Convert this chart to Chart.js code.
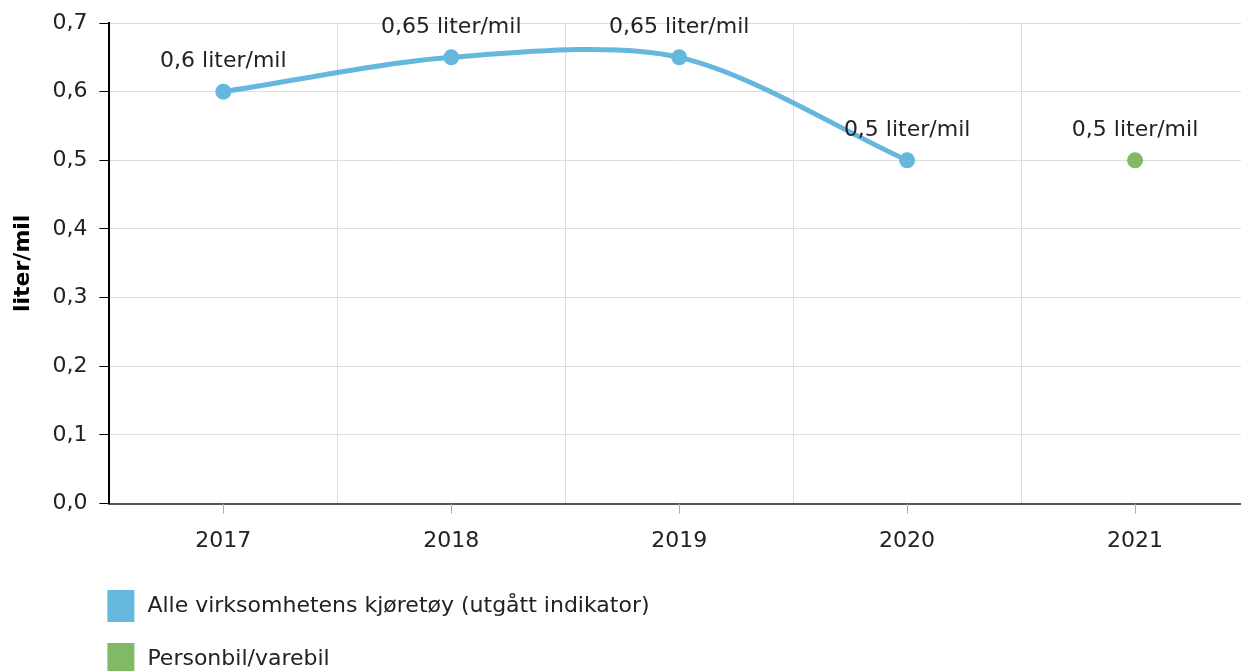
<!DOCTYPE html>
<html>
<head>
<meta charset="utf-8">
<script src="https://cdn.jsdelivr.net/npm/chart.js@4"></script>
<style>
  html, body { margin: 0; padding: 0; overflow: hidden; background: #fff; }
</style>
</head>
<body>
<canvas id="line-chart" width="1257" height="671"></canvas>
<script>
// Years on the x axis
let years = ["2017", "2018", "2019", "2020", "2021"];

// Fuel use per series (null = no value that year)
let alleKjoretoy = [0.6, 0.65, 0.65, 0.5, null];
let personbil = [null, null, null, null, 0.5];

let seriesNames = ["Alle virksomhetens kjøretøy (utgått indikator)", "Personbil/varebil"];
let seriesColors = ["#66b7de", "#82b965"];

let fontFamily = "Verdana, 'DejaVu Sans', sans-serif";
let fontSize = 22;

// Norwegian decimal comma
function fmt(v, digits) {
    return v.toFixed(digits).replace(".", ",");
}

// Labels above each point, e.g. "0,6 liter/mil"
let pointLabels = {
    id: "pointLabels",
    afterDatasetsDraw(chart) {
        let ctx = chart.ctx;
        ctx.save();
        ctx.font = fontSize + "px " + fontFamily;
        ctx.fillStyle = "#222";
        ctx.textAlign = "center";
        ctx.textBaseline = "middle";
        chart.data.datasets.forEach((ds, i) => {
            chart.getDatasetMeta(i).data.forEach((pt, j) => {
                let v = ds.data[j];
                if (v === null) return;
                let txt = String(v).replace(".", ",") + " liter/mil";
                ctx.fillText(txt, pt.x, pt.y - 30);
            });
        });
        ctx.restore();
    }
};

// Small tick marks under each category centre
let centerTicks = {
    id: "centerTicks",
    afterDraw(chart) {
        let ctx = chart.ctx;
        let x = chart.scales.x;
        let bottom = chart.chartArea.bottom;
        ctx.save();
        ctx.strokeStyle = "#aaa";
        ctx.lineWidth = 1;
        years.forEach((y, i) => {
            let px = Math.round(x.getPixelForValue(i)) + 0.5;
            ctx.beginPath();
            ctx.moveTo(px, bottom);
            ctx.lineTo(px, bottom + 10);
            ctx.stroke();
        });
        ctx.restore();
    }
};

// Vertical legend, bottom left
let stackedLegend = {
    id: "stackedLegend",
    afterDraw(chart) {
        let ctx = chart.ctx;
        let left = chart.chartArea.left - 2;
        ctx.save();
        ctx.font = fontSize + "px " + fontFamily;
        ctx.textBaseline = "middle";
        ctx.textAlign = "left";
        chart.data.datasets.forEach((ds, i) => {
            let cy = 606 + i * 53;
            ctx.fillStyle = ds.borderColor;
            ctx.fillRect(left, cy - 16, 27, 32);
            ctx.fillStyle = "#222";
            ctx.fillText(ds.label, left + 40, cy);
        });
        ctx.restore();
    }
};

let config = {
    type: "line",
    data: {
        labels: years,
        datasets: [
            {
                label: seriesNames[0],
                data: alleKjoretoy,
                borderColor: seriesColors[0],
                backgroundColor: seriesColors[0],
                borderWidth: 5,
                pointRadius: 8,
                pointHoverRadius: 8,
                pointBorderWidth: 0,
                tension: 0.3
            },
            {
                label: seriesNames[1],
                data: personbil,
                borderColor: seriesColors[1],
                backgroundColor: seriesColors[1],
                borderWidth: 5,
                pointRadius: 8,
                pointHoverRadius: 8,
                pointBorderWidth: 0
            }
        ]
    },
    options: {
        responsive: false,
        animation: false,
        layout: { padding: { top: 0, bottom: 93, right: 0, left: 0 } },
        plugins: {
            legend: { display: false },
            tooltip: { enabled: false }
        },
        scales: {
            x: {
                offset: true,
                grid: { offset: true, color: "#dddddd", drawTicks: false },
                border: { color: "#555", width: 2 },
                ticks: { color: "#222", font: { family: fontFamily, size: fontSize }, padding: 24 }
            },
            y: {
                min: 0,
                max: 0.7,
                grid: { color: "#dddddd", tickColor: "#000", tickLength: 10 },
                border: { color: "#000", width: 2 },
                ticks: {
                    stepSize: 0.1,
                    color: "#222",
                    padding: 12,
                    font: { family: fontFamily, size: fontSize, lineHeight: 1 },
                    callback: v => fmt(v, 1)
                },
                title: {
                    display: true,
                    text: "liter/mil",
                    color: "#000",
                    font: { family: fontFamily, size: fontSize, weight: "bold" },
                    padding: { top: 10, bottom: 4 }
                }
            }
        }
    },
    plugins: [pointLabels, centerTicks, stackedLegend]
};

let lineChart = new Chart(document.getElementById("line-chart"), config);
</script>
</body>
</html>
